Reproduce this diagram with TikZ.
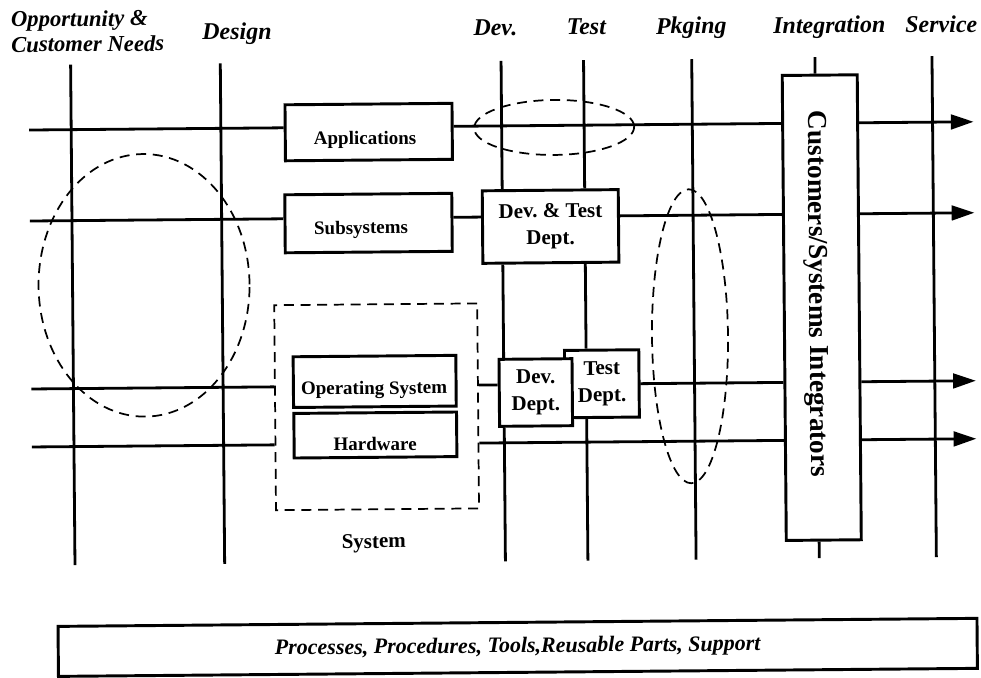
\documentclass[tikz,border=0pt]{standalone}
\usepackage{fontspec}
\setmainfont{Liberation Serif}
\usetikzlibrary{arrows.meta,calc,backgrounds,shapes.geometric}
\pgfdeclarelayer{paper}
\pgfsetlayers{paper,background,main}
\newcommand{\pxu}{0.75pt}
\begin{document}
\begin{tikzpicture}[x=0.75pt,y=-0.75pt,
  lane/.style={line width=2.1pt},
  flow/.style={lane,-{Triangle[length=17pt,width=11pt]}},
  dashline/.style={line width=1.3pt,dash pattern=on 7.5pt off 5pt},
  box/.style={draw,fill=white,line width=2.2pt,inner sep=0pt},
  boxtext/.style={anchor=base,inner sep=0pt,font=\bfseries\fontsize{14.25}{17}\selectfont},
  deptbox/.style={box,align=center,font=\bfseries\fontsize{15.75}{20.25}\selectfont},
  phase/.style={anchor=base,inner sep=0pt,font=\bfseries\itshape\fontsize{18}{22}\selectfont},
  group/.style={draw,dashline,ellipse,inner sep=0pt}]

\begin{pgfonlayer}{paper}
  \path[fill=white,use as bounding box] (0,0) rectangle (981,674);
\end{pgfonlayer}

\begin{scope}[rotate around={0.5:(490,337)},transform shape]

% phase headings
\node[phase,anchor=north west,align=left,font=\bfseries\itshape\fontsize{17}{19}\selectfont] (opp) at (13.5,6.7) {Opportunity \&\\Customer Needs};
\node[phase] (design) at (239.6,37)  {Design};
\node[phase] (devh)   at (498,35.5)  {Dev.};
\node[phase] (testh)  at (589,35.5)  {Test};
\node[phase] (pkgh)   at (694,35.5)  {Pkging};
\node[phase] (integh) at (832,36)    {Integration};
\node[phase] (servh)  at (944,36.5)  {Service};

% product layers
\node[box,minimum width=167*\pxu,minimum height=56*\pxu] (app) at (370.5,131) {};
\node[boxtext] (applbl) at (366.8,143.3) {Applications};
\node[box,minimum width=167*\pxu,minimum height=58*\pxu] (sub) at (369.5,222) {};
\node[boxtext] (sublbl) at (362,232.8) {Subsystems};
\node[deptbox,minimum width=136*\pxu,minimum height=72.5*\pxu] (dt) at (551.5,227) {Dev.\ \& Test\\Dept.};

\node[draw,dashline,minimum width=203*\pxu,minimum height=205*\pxu,inner sep=0pt] (sys) at (376,405.8) {};
\node[box,minimum width=162.7*\pxu,minimum height=50.7*\pxu] (os) at (374.3,380.4) {};
\node[boxtext] (oslbl) at (373.6,393.3) {Operating System};
\node[box,minimum width=162.7*\pxu,minimum height=44.6*\pxu] (hw) at (374.5,434) {};
\node[boxtext] (hwlbl) at (374.2,449.3) {Hardware};
\node[anchor=base,inner sep=0pt,font=\bfseries\fontsize{15.75}{19}\selectfont] (syslbl) at (372,547) {System};

\node[deptbox,minimum width=74.3*\pxu,minimum height=67.3*\pxu] (td) at (601.5,384.7) {Test\\Dept.};
\node[deptbox,minimum width=73*\pxu,minimum height=67*\pxu] (dd) at (535.3,392.9) {Dev.\\Dept.};

\node[box,minimum width=75*\pxu,minimum height=465*\pxu] (cust) at (822,310.5) {};
\node[rotate=-90,inner sep=0pt,font=\bfseries\fontsize{20.5}{24}\selectfont] (custlbl) at (816,296.8) {Customers/Systems Integrators};

\node[box,minimum width=919*\pxu,minimum height=50*\pxu,font=\bfseries\itshape\fontsize{16.5}{20}\selectfont] (support) at (515,647.6) {Processes, Procedures, Tools,Reusable Parts, Support};

% end points of the lanes and phase lines
\coordinate (A0) at (31,126);    \coordinate (A1) at (975.5,126);
\coordinate (B0) at (31,217);    \coordinate (B1) at (975.5,217);
\coordinate (C0) at (31,385);    \coordinate (C1) at (975.5,385);
\coordinate (D0) at (31,443);    \coordinate (D1) at (975.5,443);
\coordinate (P0) at (73,61);     \coordinate (P1) at (73,561.5);
\coordinate (G0) at (222.7,61);  \coordinate (G1) at (222.7,561.5);
\coordinate (V0) at (503.5,61);  \coordinate (V1) at (503.5,561.5);
\coordinate (T0) at (586,61);    \coordinate (T1) at (586,561.5);
\coordinate (K0) at (694.2,61);  \coordinate (K1) at (694.2,561.5);
\coordinate (I0) at (817.4,60);  \coordinate (I1) at (817.4,561);
\coordinate (S0) at (934.5,60);  \coordinate (S1) at (934.5,561);

\begin{pgfonlayer}{background}
  % phase lines
  \draw[lane] (P0) -- (P1);
  \draw[lane] (G0) -- (G1);
  \draw[lane] (V0) -- ($(V0)!(dt.north)!(V1)$);
  \draw[lane] ($(V0)!(dt.south)!(V1)$) -- ($(V0)!(dd.north)!(V1)$);
  \draw[lane] ($(V0)!(dd.south)!(V1)$) -- (V1);
  \draw[lane] (T0) -- ($(T0)!(dt.north)!(T1)$);
  \draw[lane] ($(T0)!(dt.south)!(T1)$) -- ($(T0)!(td.north)!(T1)$);
  \draw[lane] ($(T0)!(td.south)!(T1)$) -- (T1);
  \draw[lane] (K0) -- (K1);
  \draw[lane] (I0) -- ($(I0)!(cust.north)!(I1)$);
  \draw[lane] ($(I0)!(cust.south)!(I1)$) -- (I1);
  \draw[lane] (S0) -- (S1);
  % product lanes
  \draw[lane] (A0) -- ($(A0)!(app.west)!(A1)$);
  \draw[lane] ($(A0)!(app.east)!(A1)$) -- ($(A0)!(cust.west)!(A1)$);
  \draw[flow] ($(A0)!(cust.east)!(A1)$) -- (A1);
  \draw[lane] (B0) -- ($(B0)!(sub.west)!(B1)$);
  \draw[lane] ($(B0)!(sub.east)!(B1)$) -- ($(B0)!(dt.west)!(B1)$);
  \draw[lane] ($(B0)!(dt.east)!(B1)$) -- ($(B0)!(cust.west)!(B1)$);
  \draw[flow] ($(B0)!(cust.east)!(B1)$) -- (B1);
  \draw[lane] (C0) -- ($(C0)!(sys.west)!(C1)$);
  \draw[lane] ($(C0)!(sys.east)!(C1)$) -- ($(C0)!(dd.west)!(C1)$);
  \draw[lane] ($(C0)!(td.east)!(C1)$) -- ($(C0)!(cust.west)!(C1)$);
  \draw[flow] ($(C0)!(cust.east)!(C1)$) -- (C1);
  \draw[lane] (D0) -- ($(D0)!(sys.west)!(D1)$);
  \draw[lane] ($(D0)!(sys.east)!(D1)$) -- ($(D0)!(cust.west)!(D1)$);
  \draw[flow] ($(D0)!(cust.east)!(D1)$) -- (D1);
\end{pgfonlayer}

% dashed groupings
\node[group,minimum width=211*\pxu,minimum height=262.6*\pxu] (needs) at (144.5,282.3) {};
\node[group,minimum width=160*\pxu,minimum height=55*\pxu] (appgrp) at (556,128) {};
\node[group,minimum width=76*\pxu,minimum height=294*\pxu] (pkggrp) at (690,338) {};

\end{scope}
\end{tikzpicture}
\end{document}
